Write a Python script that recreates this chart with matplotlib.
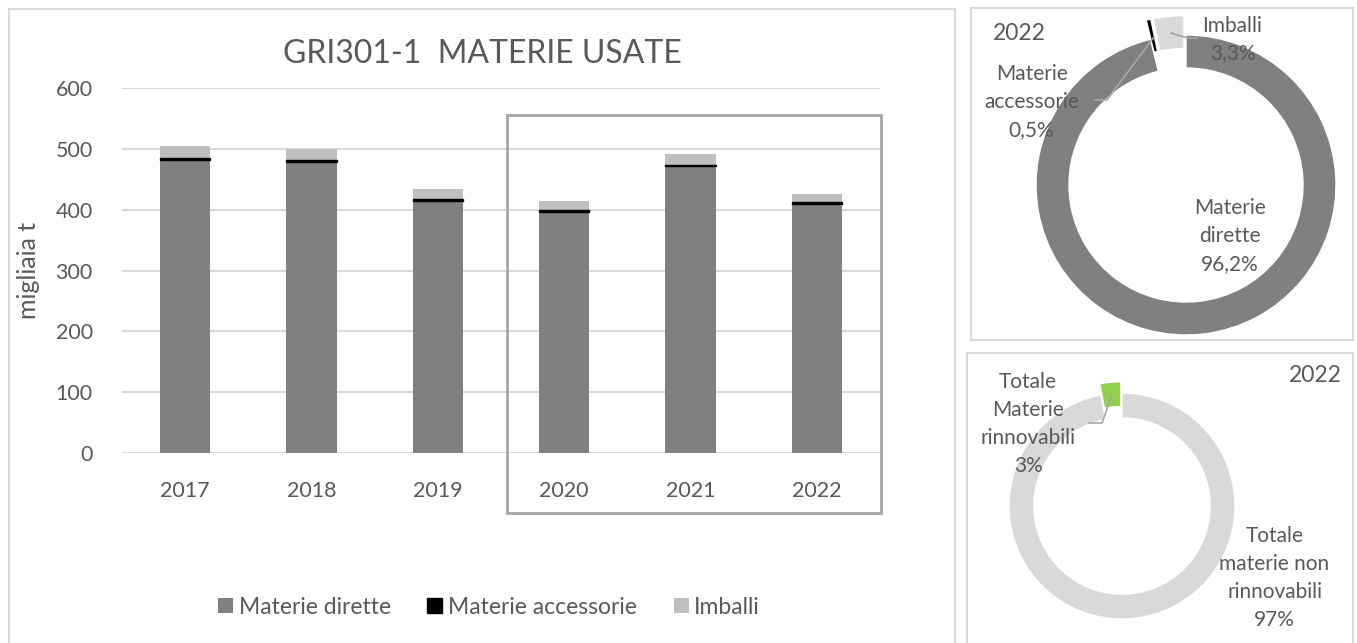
import matplotlib.pyplot as plt
from matplotlib.patches import Rectangle

plt.rcParams['font.family'] = ['Lato', 'DejaVu Sans']

# bar chart data (migliaia t)
years = ['2017', '2018', '2019', '2020', '2021', '2022']
dirette = [482, 478, 414, 396, 471, 410]
accessorie = [3, 3, 3, 3, 3, 2]
imballi = [20, 19, 17, 15, 17, 14]

# donut data 2022 (%)
mix_labels = ['Materie\ndirette\n96,2%', 'Materie\naccessorie\n0,5%', 'Imballi\n3,3%']
mix_values = [96.2, 0.5, 3.3]
ren_labels = ['Totale\nmaterie non\nrinnovabili\n97%', 'Totale\nMaterie\nrinnovabili\n3%']
ren_values = [97, 3]

TXT = '#595959'
GRID = '#D9D9D9'
W, H = 1357, 643

fig = plt.figure(figsize=(W / 100, H / 100), dpi=100)


def px_box(x0, y0, x1, y1):
    # pixel box (top-left origin) -> figure fraction [l, b, w, h]
    return [x0 / W, 1 - y1 / H, (x1 - x0) / W, (y1 - y0) / H]


def frame(x0, y0, x1, y1, color, lw):
    l, b, w, h = px_box(x0, y0, x1, y1)
    fig.patches.append(Rectangle((l, b), w, h, transform=fig.transFigure,
                                 fill=False, edgecolor=color, linewidth=lw))


# panel frames
frame(9, 9, 955, 660, GRID, 1.5)
frame(971, 8, 1353, 340, GRID, 1.5)
frame(967, 353, 1353, 660, GRID, 1.5)

# ---- stacked bars ----
ax = fig.add_axes(px_box(122, 88, 880, 453))
x = range(len(years))
bw = 0.4
ax.bar(x, dirette, bw, color='#808080', label='Materie dirette', zorder=2)
bottom2 = [d for d in dirette]
ax.bar(x, accessorie, bw, bottom=bottom2, color='black', edgecolor='black',
       linewidth=1, label='Materie accessorie', zorder=3)
bottom3 = [d + a for d, a in zip(dirette, accessorie)]
ax.bar(x, imballi, bw, bottom=bottom3, color='#BFBFBF', label='Imballi', zorder=2)

ax.set_xlim(-0.5, len(years) - 0.5)
ax.set_ylim(0, 600)
ax.set_yticks(range(0, 601, 100))
ax.set_xticks(list(x))
ax.set_xticklabels(years)
ax.tick_params(length=0, labelsize=15.5, labelcolor=TXT)
ax.tick_params(axis='y', pad=21)
ax.tick_params(axis='x', pad=20)
for s in ax.spines.values():
    s.set_visible(False)
ax.grid(axis='y', color=GRID, linewidth=1.5, zorder=0)
ax.set_axisbelow(True)
ax.set_ylabel('migliaia t', fontsize=18, color=TXT)
ax.yaxis.set_label_coords(-0.108, 0.5)

fig.text(482 / W, 1 - 54 / H, 'GRI301-1  MATERIE USATE', ha='center', va='center',
         fontsize=23, color=TXT)

# highlight box around 2020-2022
frame(507, 115, 881, 513, '#A6A6A6', 2)

fig.legend(loc='center', bbox_to_anchor=(489 / W, 1 - 607 / H), ncol=3, frameon=False,
           fontsize=16.5, labelcolor=TXT, handlelength=0.65, handleheight=0.65,
           handletextpad=0.25, columnspacing=1.6)

# ---- donut 1: composizione 2022 ----
R1 = 150
ax1 = fig.add_axes(px_box(1186 - R1, 185 - R1, 1186 + R1, 185 + R1))
ax1.pie(mix_values, colors=['#808080', 'black', '#D9D9D9'], startangle=90, counterclock=False,
        explode=[0, 0.13, 0.13], radius=1,
        wedgeprops=dict(width=0.22, edgecolor='white', linewidth=1))
ax1.set_xlim(-1, 1)
ax1.set_ylim(-1, 1)
ax1.set_aspect('auto')
ax1.axis('off')
for c in ax1.get_children():
    c.set_clip_on(False)
lab_pos1 = [(0.29, -0.34), (-1.03, 0.55), (0.31, 0.97)]
for t, (lx, ly) in zip(mix_labels, lab_pos1):
    ax1.text(lx, ly, t, ha='center', va='center', fontsize=15, color=TXT, linespacing=1.5)
ax1.plot([-0.1, 0.013, 0.073], [1.013, 0.98, 0.98], color='#A6A6A6', lw=1.2, clip_on=False)
ax1.plot([-0.213, -0.527, -0.607], [0.987, 0.567, 0.567], color='#A6A6A6', lw=1.2, clip_on=False)
fig.text(993 / W, 1 - 33 / H, '2022', ha='left', va='center', fontsize=16.5, color=TXT)

# ---- donut 2: rinnovabili 2022 ----
R2 = 113
ax2 = fig.add_axes(px_box(1122 - R2, 506 - R2, 1122 + R2, 506 + R2))
ax2.pie(ren_values, colors=['#D9D9D9', '#92D050'], startangle=90, counterclock=False,
        explode=[0, 0.1], radius=1,
        wedgeprops=dict(width=0.22, edgecolor='white', linewidth=1))
ax2.set_xlim(-1, 1)
ax2.set_ylim(-1, 1)
ax2.set_aspect('auto')
ax2.axis('off')
for c in ax2.get_children():
    c.set_clip_on(False)
lab_pos2 = [(1.35, -0.64), (-0.83, 0.73)]
for t, (lx, ly) in zip(ren_labels, lab_pos2):
    ax2.text(lx, ly, t, ha='center', va='center', fontsize=15, color=TXT, linespacing=1.5)
ax2.plot([-0.088, -0.177, -0.292], [0.982, 0.735, 0.735], color='#A6A6A6', lw=1.2, clip_on=False)
fig.text(1342 / W, 1 - 375 / H, '2022', ha='right', va='center', fontsize=16.5, color=TXT)

fig.savefig('out.png', dpi=100)
